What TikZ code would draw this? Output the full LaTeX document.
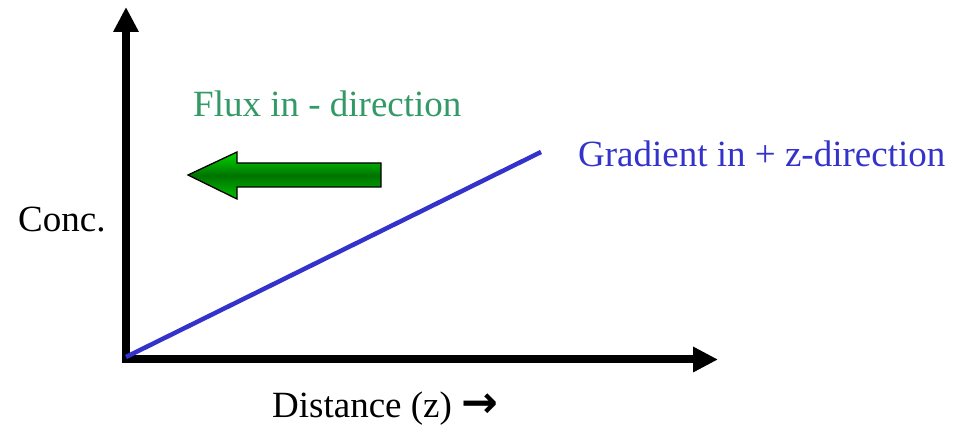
\documentclass[tikz,border=0pt]{standalone}
\usepackage{fontspec}
\setmainfont{Liberation Serif}
\newfontfamily\arrowfont{DejaVu Sans}
\usetikzlibrary{arrows.meta}
\definecolor{fluxgreen}{RGB}{51,153,102}
\definecolor{gradblue}{RGB}{51,51,204}
\begin{document}
\begin{tikzpicture}[x=1pt,y=-1pt,
  axis/.style={line width=8pt,-{Triangle[width=24pt,length=25pt]}},
  lbl/.style={font=\fontsize{37}{40}\selectfont,inner sep=0pt,anchor=base west},
  fluxarrow/.style={draw=black,line width=1.3pt,top color=green!85!black,bottom color=green!75!black,middle color=green!45!black}
]
\useasboundingbox (0,0) rectangle (954,427);
% axes
\coordinate (ybot) at (126,363);
\coordinate (ytip) at (126,7);
\coordinate (xleft) at (122,359.5);
\coordinate (xtip) at (718,359.5);
\draw[axis] (ybot) -- (ytip);
\draw[axis] (xleft) -- (xtip);
% gradient line
\coordinate (g0) at (126,357);
\coordinate (g1) at (541,152);
\draw[gradblue,line width=4.5pt] (g0) -- (g1);
% flux arrow
\path[fluxarrow] (188,175) -- (237,152) -- (237,163) -- (381,163) -- (381,187) -- (237,187) -- (237,199) -- cycle;
% labels
\node[lbl] (conc) at (18,232) {Conc.};
\node[lbl,text=fluxgreen] (flux) at (193,117) {Flux in - direction};
\node[lbl,text=gradblue] (grad) at (578,167) {Gradient in + z-direction};
\node[lbl] (dist) at (272,418) {Distance (z) {\arrowfont\bfseries\fontsize{44}{40}\selectfont →}};
\end{tikzpicture}
\end{document}
